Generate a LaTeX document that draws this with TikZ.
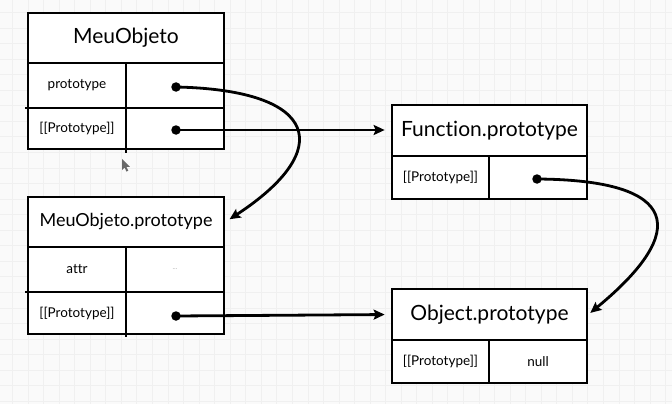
\documentclass[tikz,border=0pt]{standalone}
\usepackage{fontspec}
\setmainfont[Ligatures=NoCommon]{Lato}
\usetikzlibrary{arrows.meta}
\definecolor{paper}{HTML}{FAFAFA}
\definecolor{gridline}{HTML}{F0F0F0}
\definecolor{cursorgray}{HTML}{505050}
\begin{document}
\begin{tikzpicture}[x=1pt,y=-1pt,
  cell/.style={draw, line width=2.7pt, inner sep=0pt, fill=white},
  title/.style={cell, font=\fontsize{21}{24}\selectfont},
  subtitle/.style={cell, font=\fontsize{18}{22}\selectfont},
  label/.style={cell, font=\fontsize{13.5}{16}\selectfont},
  dot/.style={circle, fill=black, inner sep=0pt, minimum size=9.5pt},
  link/.style={line width=2.8pt, -{Stealth[length=11pt,width=10pt,inset=2pt]}}]

% paper and faint grid
\fill[paper] (0,0) rectangle (672,404);
\useasboundingbox (0,0) rectangle (672,404);
\foreach \i in {0,...,42}{
  \draw[gridline, line width=0.9pt] (12.5+\i*15.55,0) -- ++(0,404);
}
\foreach \j in {0,...,25}{
  \draw[gridline, line width=0.9pt] (0,12.5+\j*15.55) -- ++(672,0);
}

% MeuObjeto
\node[title, minimum width=196pt, minimum height=50pt] (mo) at (126,38) {MeuObjeto};
\node[label, minimum width=98pt, minimum height=45pt] (moK1) at (77,85.5) {prototype};
\node[label, minimum width=98pt, minimum height=45pt] (moV1) at (175,85.5) {};
\node[label, minimum width=98pt, minimum height=41pt] (moK2) at (77,128.5) {[[Prototype]]};
\node[label, minimum width=98pt, minimum height=41pt] (moV2) at (175,128.5) {};
\draw[line width=2.7pt] (25,108) -- (28,108);
\draw[line width=2.7pt] (126,149) -- (126,153);

% MeuObjeto.prototype
\node[subtitle, minimum width=196pt, minimum height=50pt] (mp) at (126,222) {MeuObjeto.prototype};
\node[label, minimum width=98pt, minimum height=45pt] (mpK1) at (77,269.5) {attr};
\node[label, minimum width=98pt, minimum height=45pt, font=\fontsize{7}{8}\selectfont, text=black!30] (mpV1) at (175,269.5) {...};
\node[label, minimum width=98pt, minimum height=42pt] (mpK2) at (77,313) {[[Prototype]]};
\node[label, minimum width=98pt, minimum height=42pt] (mpV2) at (175,313) {};
\draw[line width=2.7pt] (25,292) -- (28,292);
\draw[line width=2.7pt] (126,334) -- (126,337);

% Function.prototype
\node[title, minimum width=195pt, minimum height=51pt] (fp) at (489.5,130.5) {Function.prototype};
\node[label, minimum width=97pt, minimum height=43pt] (fpK) at (440.5,177.5) {[[Prototype]]};
\node[label, minimum width=98pt, minimum height=43pt] (fpV) at (538,177.5) {};

% Object.prototype
\node[title, minimum width=195pt, minimum height=51pt] (op) at (489.5,314.5) {Object.prototype};
\node[label, minimum width=97pt, minimum height=43pt] (opK) at (440.5,361.5) {[[Prototype]]};
\node[label, minimum width=98pt, minimum height=43pt] (opV) at (538,361.5) {null};

% reference dots
\node[dot] (d1) at (176,87) {};
\node[dot] (d2) at (176,130) {};
\node[dot] (d3) at (176,316) {};
\node[dot] (d4) at (537,179) {};

% prototype links
\draw[link, shorten >=5pt] (d1.center) .. controls +(144,3) and +(110,-72) .. (mp.east);
\draw[link, shorten >=6pt] (d2.center) -- (fp.west |- d2);
\draw[link, shorten >=6pt] (d3.center) -- (op.west);
\draw[link, shorten >=2.5pt] (d4.center) .. controls +(143,1) and +(102,-84) .. (op.east);

% mouse pointer
\fill[cursorgray, opacity=0.85] (122,159) -- ++(0,11) -- ++(2.6,-2.4) -- ++(1.9,4) -- ++(1.8,-0.9) -- ++(-1.9,-3.9) -- ++(3.4,0) -- cycle;
\end{tikzpicture}
\end{document}
